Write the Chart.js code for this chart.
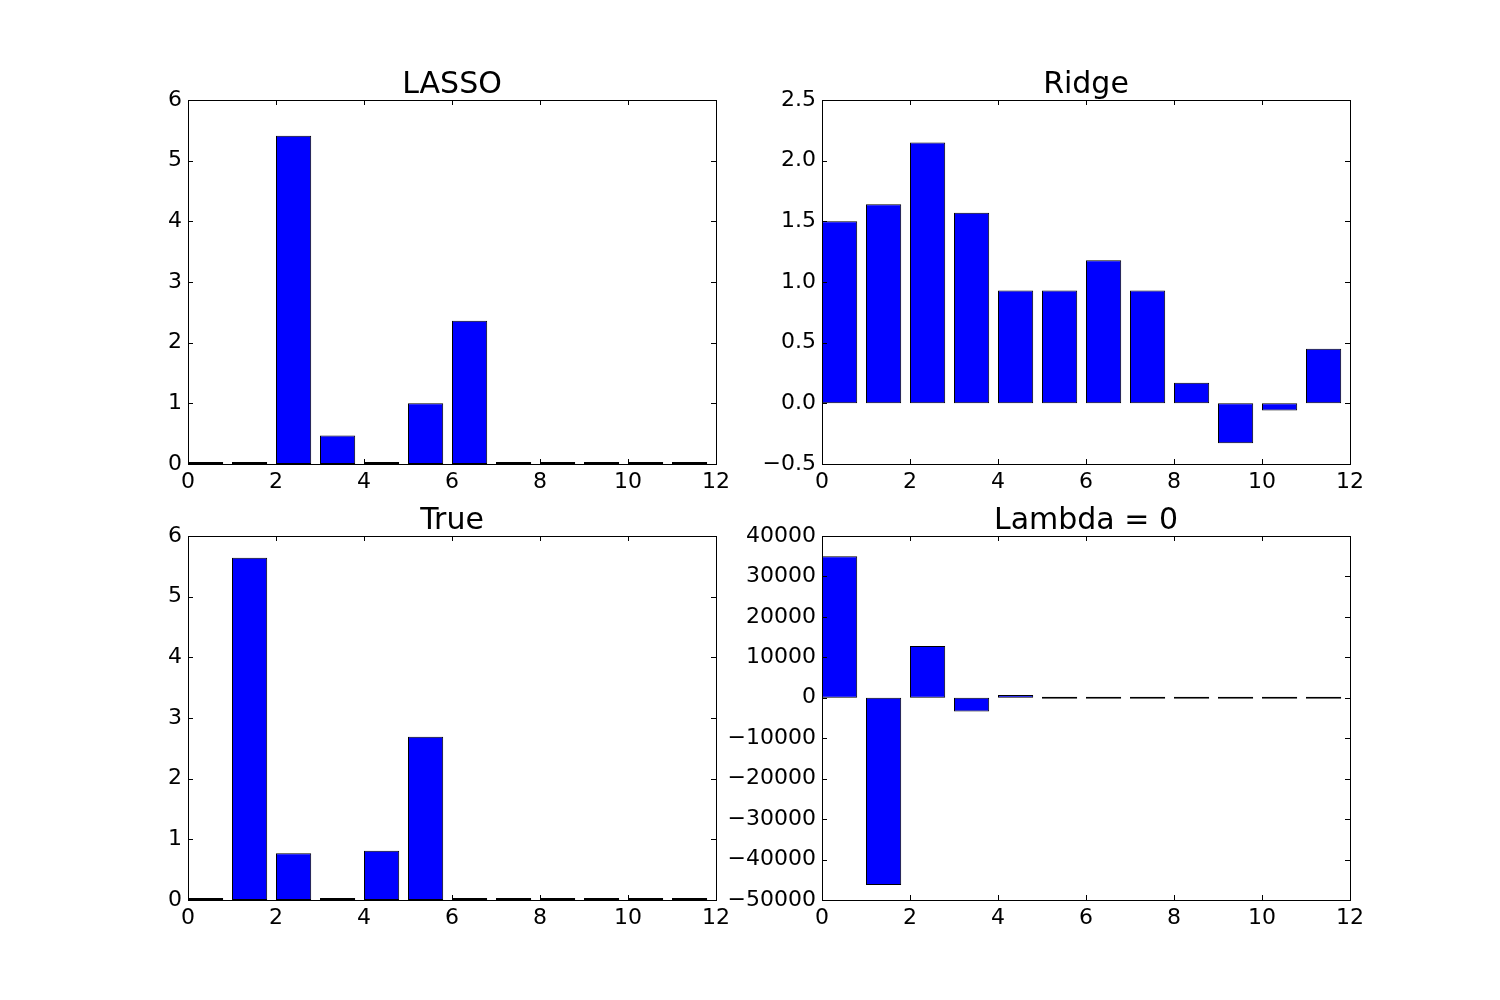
<!DOCTYPE html>
<html>
<head>
<meta charset="utf-8">
<script src="https://cdn.jsdelivr.net/npm/chart.js@4.4.1/dist/chart.umd.min.js"></script>
<style>
  body { margin: 0; background: #fff; }
  #fig { position: relative; width: 1500px; height: 1000px; background: #fff; }
  .panel { position: absolute; width: 718px; height: 454px; }
</style>
</head>
<body>
<div id="fig">
  <div class="panel" style="left:93px; top:50px;"><canvas id="lasso" width="718" height="454"></canvas></div>
  <div class="panel" style="left:727px; top:50px;"><canvas id="ridge" width="718" height="454"></canvas></div>
  <div class="panel" style="left:93px; top:486px;"><canvas id="vrai" width="718" height="454"></canvas></div>
  <div class="panel" style="left:727px; top:486px;"><canvas id="lambda0" width="718" height="454"></canvas></div>
</div>
<script>
// coefficient index (bar left edge = index, width 0.8)
const indices = [0, 1, 2, 3, 4, 5, 6, 7, 8, 9, 10, 11];

// values
const lassoValues = [0, 0, 5.41, 0.47, 0, 1.0, 2.36, 0, 0, 0, 0, 0];
const ridgeValues = [1.50, 1.64, 2.15, 1.57, 0.93, 0.93, 1.18, 0.93, 0.17, -0.33, -0.06, 0.45];
const trueValues = [0, 5.64, 0.77, 0, 0.81, 2.69, 0, 0, 0, 0, 0, 0];
const lambda0Values = [35000, -46300, 12800, -3400, 700, 0, 0, 0, 0, 0, 0, 0];

// tick labels
const xTicks = [0, 2, 4, 6, 8, 10, 12];
const lassoTicks = [0, 1, 2, 3, 4, 5, 6];
const ridgeTicks = [-0.5, 0.0, 0.5, 1.0, 1.5, 2.0, 2.5];
const trueTicks = [0, 1, 2, 3, 4, 5, 6];
const lambda0Ticks = [-50000, -40000, -30000, -20000, -10000, 0, 10000, 20000, 30000, 40000];

const FONT = "'DejaVu Sans', 'Liberation Sans', sans-serif";

function fmt(v, dec) {
  return (v < 0 ? "\u2212" : "") + Math.abs(v).toFixed(dec);
}

// cadre façon matplotlib, ticks vers l'intérieur sur les 4 côtés
const cadre = {
  id: "cadre",
  afterDatasetsDraw(chart) {
    const ctx = chart.ctx;
    const a = chart.chartArea;
    const L = 5;
    ctx.save();
    ctx.strokeStyle = "#000";
    ctx.lineWidth = 1;
    ctx.beginPath();
    chart.scales.x.ticks.forEach(function (t) {
      const px = Math.round(chart.scales.x.getPixelForValue(t.value)) + 0.5;
      ctx.moveTo(px, a.bottom);
      ctx.lineTo(px, a.bottom - L);
      ctx.moveTo(px, a.top);
      ctx.lineTo(px, a.top + L);
    });
    chart.scales.y.ticks.forEach(function (t) {
      const py = Math.round(chart.scales.y.getPixelForValue(t.value)) + 0.5;
      ctx.moveTo(a.left, py);
      ctx.lineTo(a.left + L, py);
      ctx.moveTo(a.right, py);
      ctx.lineTo(a.right - L, py);
    });
    ctx.stroke();
    ctx.strokeRect(Math.round(a.left) + 0.5, Math.round(a.top) + 0.5,
      Math.round(a.right - a.left), Math.round(a.bottom - a.top));
    ctx.restore();
  },
};

function faireGraphe(id, titre, valeurs, yTicks, dec) {
  const ctx = document.getElementById(id).getContext("2d");
  return new Chart(ctx, {
    type: "bar",
    data: {
      datasets: [
        {
          data: indices.map(function (i, k) {
            return { x: i + 0.4, y: valeurs[k] };
          }),
          backgroundColor: "#0000ff",
          borderColor: "#000000",
          borderWidth: 1,
          borderSkipped: false,
          minBarLength: 2,
          barPercentage: 0.8,
          categoryPercentage: 1.0,
        },
      ],
    },
    options: {
      responsive: false,
      animation: false,
      devicePixelRatio: 1,
      layout: { padding: 0 },
      plugins: {
        legend: { display: false },
        tooltip: { enabled: false },
        title: {
          display: true,
          text: titre,
          color: "#000",
          font: { family: FONT, size: 30, weight: "normal", lineHeight: 1.0 },
          padding: { top: 20, bottom: 0 },
        },
      },
      scales: {
        x: {
          type: "linear",
          min: 0,
          max: 12,
          offset: false,
          grid: { display: false, drawTicks: false },
          border: { display: false },
          afterBuildTicks: function (s) {
            s.ticks = xTicks.map(function (v) { return { value: v }; });
          },
          afterFit: function (s) { s.height = 40; },
          ticks: {
            autoSkip: false,
            maxRotation: 0,
            padding: 5,
            color: "#000",
            font: { family: FONT, size: 22 },
            callback: function (v) { return fmt(v, 0); },
          },
        },
        y: {
          min: yTicks[0],
          max: yTicks[yTicks.length - 1],
          grid: { display: false, drawTicks: false },
          border: { display: false },
          afterBuildTicks: function (s) {
            s.ticks = yTicks.map(function (v) { return { value: v }; });
          },
          afterFit: function (s) { s.width = 95; },
          ticks: {
            autoSkip: false,
            padding: 6,
            color: "#000",
            font: { family: FONT, size: 22 },
            callback: function (v) { return fmt(v, dec); },
          },
        },
        // marge droite vide, pour que le titre soit centré sur la zone du graphe
        yDroite: {
          position: "right",
          min: yTicks[0],
          max: yTicks[yTicks.length - 1],
          grid: { display: false, drawTicks: false },
          border: { display: false },
          ticks: { display: false },
          afterFit: function (s) { s.width = 95; },
        },
      },
    },
    plugins: [cadre],
  });
}

faireGraphe("lasso", "LASSO", lassoValues, lassoTicks, 0);
faireGraphe("ridge", "Ridge", ridgeValues, ridgeTicks, 1);
faireGraphe("vrai", "True", trueValues, trueTicks, 0);
faireGraphe("lambda0", "Lambda = 0", lambda0Values, lambda0Ticks, 0);
</script>
</body>
</html>
